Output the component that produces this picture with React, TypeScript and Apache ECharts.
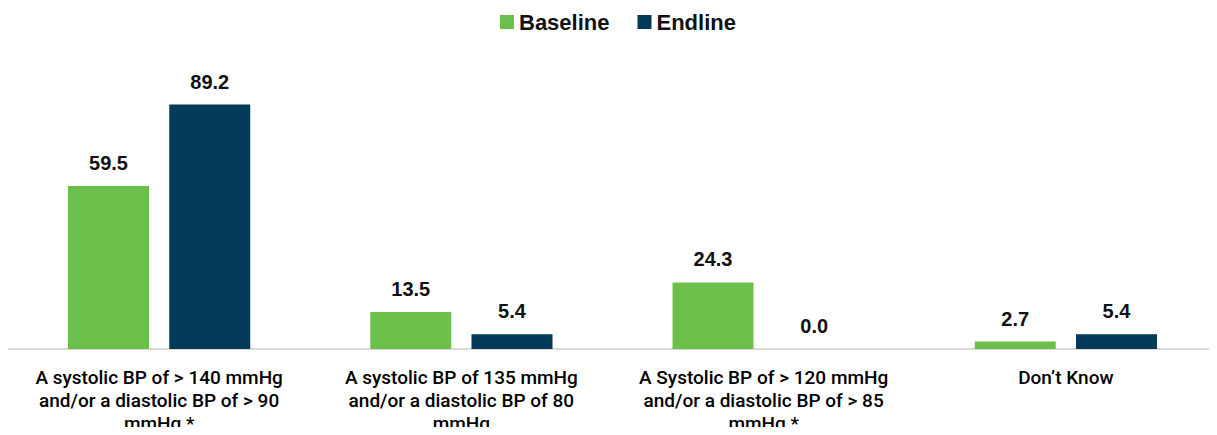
import React, { useEffect, useRef } from "react";
import * as echarts from "echarts";

const categories = [
  "A systolic BP of > 140 mmHg\nand/or a diastolic BP of > 90\nmmHg *",
  "A systolic BP of 135 mmHg\nand/or a diastolic BP of 80\nmmHg",
  "A Systolic BP of > 120 mmHg\nand/or a diastolic BP of > 85\nmmHg *",
  "Don\u2019t Know",
];
const baseline = [59.5, 13.5, 24.3, 2.7];
const endline = [89.2, 5.4, 0.0, 5.4];

export default function App() {
  const ref = useRef<HTMLDivElement>(null);
  useEffect(() => {
    if (!ref.current) return;
    const chart = echarts.init(ref.current, null, { renderer: "svg" });
    const labelStyle = {
      show: true,
      position: "top" as const,
      distance: 13,
      fontFamily: "Liberation Sans",
      fontSize: 20,
      fontWeight: "bold" as const,
      color: "#111",
      formatter: (p: any) => Number(p.value).toFixed(1),
    };
    chart.setOption({
      animation: false,
      legend: {
        top: 6,
        left: 495,
        itemWidth: 14,
        itemHeight: 14,
        itemGap: 28,
        icon: "rect",
        textStyle: {
          fontFamily: "Liberation Sans",
          fontSize: 22,
          fontWeight: "bold",
          color: "#111",
        },
        data: ["Baseline", "Endline"],
      },
      grid: { left: 8, right: 0, top: 75, bottom: 84, containLabel: false },
      xAxis: {
        type: "category",
        data: categories,
        axisLine: { lineStyle: { color: "#d9d9d9", width: 2 } },
        axisTick: { show: false },
        axisLabel: {
          interval: 0,
          margin: 17,
          fontFamily: "Roboto",
          fontSize: 19,
          fontWeight: 500,
          lineHeight: 23,
          color: "#000",
          align: "center",
        },
      },
      yAxis: {
        type: "value",
        min: 0,
        max: 100,
        show: false,
        splitLine: { show: false },
      },
      series: [
        {
          name: "Baseline",
          type: "bar",
          data: baseline,
          barWidth: 81,
          barGap: "25%",
          itemStyle: { color: "#6DBF4B" },
          label: labelStyle,
        },
        {
          name: "Endline",
          type: "bar",
          data: endline,
          barWidth: 81,
          itemStyle: { color: "#033A59" },
          label: labelStyle,
        },
      ],
    });
    return () => chart.dispose();
  }, []);
  return <div ref={ref} style={{ width: 1217, height: 435, margin: -8 }} />;
}
